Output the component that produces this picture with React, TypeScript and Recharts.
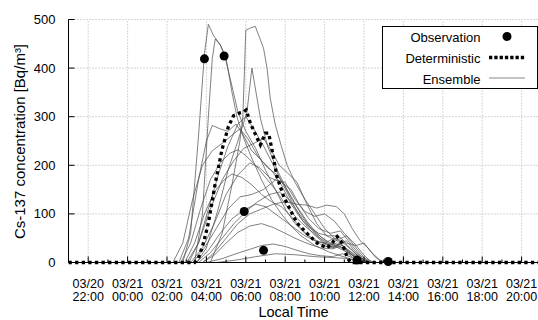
import { ComposedChart, Line, XAxis, YAxis, CartesianGrid, Legend, ReferenceLine } from 'recharts';

const FONT = '"Liberation Sans", Arial, Helvetica, sans-serif';

// x is hours after 03/20 21:00 local time
const minorTicks = [1, 2, 3, 4, 5, 6, 7, 8, 9, 10, 11, 12, 13, 14, 15, 16, 17, 18, 19, 20, 21, 22, 23];
const majorTicks = [1, 3, 5, 7, 9, 11, 13, 15, 17, 19, 21, 23];
const tickDays = ['03/20', '03/21', '03/21', '03/21', '03/21', '03/21', '03/21', '03/21', '03/21', '03/21', '03/21', '03/21'];
const tickTimes = ['22:00', '00:00', '02:00', '04:00', '06:00', '08:00', '10:00', '12:00', '14:00', '16:00', '18:00', '20:00'];
const yTicks = [0, 100, 200, 300, 400, 500];

const observation = [[6.9, 419], [7.9, 425], [8.92, 105], [9.9, 25], [14.65, 5], [16.23, 2]];

const deterministic = [
  [0, 0], [6.4, 0], [6.6, 9], [6.85, 40], [7.1, 81], [7.45, 163], [7.79, 232], [8.12, 280], [8.38, 302],
  [8.7, 308], [8.89, 310], [9.02, 314], [9.23, 287], [9.57, 256], [9.74, 242], [9.99, 266], [10.16, 266],
  [10.33, 232], [10.58, 177], [10.92, 136], [11.26, 108], [11.6, 81], [12.11, 60], [12.62, 40], [13.13, 30],
  [13.38, 40], [13.64, 53], [13.89, 40], [14.14, 12], [14.3, 0], [24, 0],
];

const m1 = [[0, 0], [5.8, 0], [6.2, 60], [6.6, 260], [6.9, 430], [7.1, 490], [7.35, 468], [7.7, 448], [8.0, 420], [8.3, 350], [8.55, 300], [8.9, 255], [9.3, 215], [9.8, 170], [10.3, 130], [10.8, 100], [11.3, 75], [11.8, 55], [12.5, 35], [13.2, 22], [13.8, 14], [14.5, 5], [15, 0], [24, 0]];
const m2 = [[0, 0], [6.4, 0], [6.8, 100], [7.1, 300], [7.3, 420], [7.45, 460], [7.7, 448], [7.9, 430], [8.2, 380], [8.6, 310], [9, 270], [9.5, 235], [10, 190], [10.5, 150], [11, 110], [11.5, 80], [12, 60], [12.6, 45], [13.2, 35], [13.6, 40], [14, 25], [14.5, 8], [15, 0], [24, 0]];
const m3 = [[0, 0], [7.2, 0], [7.8, 60], [8.3, 160], [8.7, 250], [8.85, 300], [9.0, 478], [9.2, 482], [9.48, 486], [9.9, 441], [10.08, 400], [10.24, 338], [10.5, 283], [10.8, 240], [11.1, 200], [11.5, 165], [12, 130], [12.5, 100], [13, 70], [13.5, 50], [13.9, 42], [14.3, 28], [14.8, 10], [15.3, 0], [24, 0]];
const m4 = [[0, 0], [6.5, 0], [7, 30], [7.6, 110], [8.1, 190], [8.6, 250], [9.06, 310], [9.31, 400], [9.74, 297], [10.1, 240], [10.6, 190], [11.2, 140], [11.8, 100], [12.4, 65], [13, 40], [13.5, 30], [13.9, 45], [14.3, 30], [14.8, 10], [15.3, 0], [24, 0]];
const m5 = [[0, 0], [5.6, 0], [6.1, 50], [6.6, 170], [7.0, 250], [7.3, 282], [7.7, 275], [8.1, 270], [8.5, 285], [8.9, 260], [9.3, 230], [9.8, 210], [10.3, 190], [10.8, 160], [11.3, 120], [11.8, 90], [12.3, 70], [12.9, 50], [13.5, 35], [14, 28], [14.6, 10], [15.2, 0], [24, 0]];
const m6 = [[0, 0], [5.3, 0], [5.8, 40], [6.3, 130], [6.8, 200], [7.3, 230], [7.8, 245], [8.3, 262], [8.7, 275], [9.1, 255], [9.6, 220], [10.1, 195], [10.6, 180], [11.1, 150], [11.6, 115], [12.1, 85], [12.6, 60], [13.2, 40], [13.7, 35], [14.1, 45], [14.5, 25], [15, 5], [15.4, 0], [24, 0]];
const m7 = [[0, 0], [6, 0], [6.6, 40], [7.2, 110], [7.8, 170], [8.4, 210], [8.9, 235], [9.4, 245], [9.9, 255], [10.3, 230], [10.7, 200], [11.1, 185], [11.6, 165], [12.1, 120], [12.6, 80], [13.1, 55], [13.6, 45], [14.1, 55], [14.5, 35], [15, 10], [15.5, 0], [24, 0]];
const m8 = [[0, 0], [5.7, 0], [6.2, 40], [6.7, 110], [7.2, 170], [7.7, 205], [8.2, 225], [8.6, 232], [9.0, 220], [9.5, 200], [10, 175], [10.5, 150], [11, 120], [11.5, 95], [12, 75], [12.6, 55], [13.2, 38], [13.7, 30], [14.2, 20], [14.8, 5], [15.3, 0], [24, 0]];
const m9 = [[0, 0], [6.2, 0], [6.8, 30], [7.4, 80], [8, 140], [8.6, 180], [9.2, 205], [9.7, 195], [10.2, 175], [10.8, 165], [11.3, 150], [11.7, 120], [12.2, 90], [12.7, 70], [13.3, 60], [13.8, 65], [14.3, 40], [14.8, 15], [15.3, 0], [24, 0]];
const m10 = [[0, 0], [6.8, 0], [7.4, 20], [8, 50], [8.6, 80], [9.2, 100], [9.8, 110], [10.4, 120], [11, 125], [11.6, 120], [12.1, 118], [12.6, 112], [13.1, 118], [13.6, 115], [14, 100], [14.4, 70], [14.8, 45], [15.2, 30], [15.6, 10], [16, 0], [24, 0]];
const m11 = [[0, 0], [6.3, 0], [6.9, 30], [7.5, 70], [8.1, 110], [8.7, 135], [9.3, 140], [9.9, 150], [10.5, 170], [11, 165], [11.5, 130], [12, 105], [12.5, 95], [13, 100], [13.5, 85], [14, 60], [14.5, 40], [15, 15], [15.4, 0], [24, 0]];
const m12 = [[0, 0], [6.5, 0], [7.1, 25], [7.7, 60], [8.3, 90], [8.9, 108], [9.5, 120], [10, 115], [10.5, 100], [11, 85], [11.5, 70], [12, 55], [12.5, 45], [13, 40], [13.5, 50], [13.9, 35], [14.4, 15], [14.9, 0], [24, 0]];
const m13 = [[0, 0], [6.8, 0], [7.4, 15], [8, 40], [8.6, 62], [9.2, 75], [9.8, 80], [10.4, 72], [11, 60], [11.6, 48], [12.2, 38], [12.8, 30], [13.4, 28], [13.9, 35], [14.4, 20], [15, 5], [15.4, 0], [24, 0]];
const m14 = [[0, 0], [7, 0], [7.8, 8], [8.5, 18], [9.2, 27], [9.8, 35], [10.4, 38], [11, 33], [11.6, 25], [12.2, 18], [12.8, 14], [13.4, 12], [13.9, 18], [14.4, 10], [15, 0], [24, 0]];
const m15 = [[0, 0], [7.5, 0], [8.5, 5], [9.5, 12], [10.5, 18], [11.5, 16], [12.5, 12], [13.5, 10], [14.2, 8], [15, 0], [24, 0]];
const m16 = [[0, 0], [5.9, 0], [6.4, 40], [6.9, 100], [7.4, 145], [7.9, 170], [8.3, 182], [8.8, 175], [9.3, 160], [9.8, 140], [10.3, 125], [10.8, 115], [11.3, 95], [11.8, 70], [12.3, 50], [12.9, 35], [13.4, 30], [13.8, 38], [14.2, 22], [14.7, 5], [15.1, 0], [24, 0]];
const m17 = [[0, 0], [6.1, 0], [6.6, 40], [7.1, 110], [7.6, 180], [8.1, 240], [8.6, 285], [9.0, 300], [9.4, 275], [9.9, 240], [10.4, 200], [10.9, 160], [11.4, 120], [11.9, 85], [12.4, 60], [12.9, 42], [13.4, 32], [13.8, 40], [14.2, 25], [14.7, 8], [15.1, 0], [24, 0]];
const m18 = [[0, 0], [6.6, 0], [7.2, 20], [7.8, 50], [8.4, 80], [9, 105], [9.6, 125], [10.2, 140], [10.7, 145], [11.2, 130], [11.7, 100], [12.2, 75], [12.7, 60], [13.2, 55], [13.7, 55], [14.1, 40], [14.6, 35], [15, 40], [15.4, 20], [15.8, 5], [16.2, 0], [24, 0]];

const ensemble = [m1, m2, m3, m4, m5, m6, m7, m8, m9, m10, m11, m12, m13, m14, m15, m16, m17, m18];

const toRows = (pts: number[][]) => pts.map(([h, v]) => ({ h, v }));

const BottomTick = ({ x, y, payload }: any) => {
  const i = majorTicks.indexOf(payload.value);
  return (
    <g>
      <line x1={x} x2={x} y1={y} y2={y - (i >= 0 ? 6 : 3)} stroke="#000" />
      {i >= 0 && (
        <text x={x} y={y} textAnchor="middle" fontSize={12.5} fontFamily={FONT} fill="#000">
          <tspan x={x} dy={25}>{tickDays[i]}</tspan>
          <tspan x={x} dy={13.5}>{tickTimes[i]}</tspan>
        </text>
      )}
    </g>
  );
};

const TopTick = ({ x, y, payload }: any) => {
  const major = majorTicks.includes(payload.value);
  return <line x1={x} x2={x} y1={y} y2={y + (major ? 6 : 3)} stroke="#000" />;
};

const LeftTick = ({ x, y, payload }: any) => (
  <g>
    <line x1={x} x2={x + 6} y1={y} y2={y} stroke="#000" />
    <text x={x - 13} y={y} dy={4.5} textAnchor="end" fontSize={13} fontFamily={FONT} fill="#000">
      {payload.value}
    </text>
  </g>
);

const renderLegend = () => (
  <svg width={157} height={64} style={{ display: 'block' }}>
    <rect x={0.5} y={0.5} width={155} height={62} fill="#fff" stroke="#000" />
    <text x={98.5} y={16} textAnchor="end" fontSize={13} fontFamily={FONT}>Observation</text>
    <circle cx={125} cy={10.5} r={4.5} fill="#000" />
    <text x={98.5} y={37} textAnchor="end" fontSize={13} fontFamily={FONT}>Deterministic</text>
    <line x1={107} x2={143} y1={31.5} y2={31.5} stroke="#000" strokeWidth={3.3} strokeDasharray="3.3 2" />
    <text x={98.5} y={58} textAnchor="end" fontSize={13} fontFamily={FONT}>Ensemble</text>
    <line x1={107} x2={143} y1={52} y2={52} stroke="#888" strokeWidth={1} />
  </svg>
);

export default function App() {
  return (
    <div style={{ position: 'fixed', left: 0, top: 0, width: 538, height: 320, overflow: 'hidden', background: '#fff' }}>
      <ComposedChart width={546} height={320} margin={{ top: 19.5, right: 4.7, bottom: 0, left: 0.5 }}>
        <CartesianGrid vertical={false} stroke="#999" strokeDasharray="1 2" strokeWidth={0.8} />
        {majorTicks.map((t) => (
          <ReferenceLine key={`vg-${t}`} x={t} stroke="#999" strokeDasharray="1 2" strokeWidth={0.8} />
        ))}
        <XAxis
          type="number"
          dataKey="h"
          domain={[0, 24]}
          ticks={minorTicks}
          interval={0}
          height={57.5}
          tickSize={0}
          tickMargin={0}
          tick={<BottomTick />}
          axisLine={{ stroke: '#000' }}
          allowDataOverflow
          label={{
            content: () => (
              <text x={293.5} y={316.8} textAnchor="middle" fontSize={14.5} fontFamily={FONT} fill="#000">Local Time</text>
            ),
          }}
        />
        <XAxis
          xAxisId="top"
          orientation="top"
          type="number"
          dataKey="h"
          domain={[0, 24]}
          ticks={minorTicks}
          interval={0}
          height={0}
          tickSize={0}
          tickMargin={0}
          tick={<TopTick />}
          axisLine={{ stroke: '#000' }}
        />
        <YAxis
          type="number"
          domain={[0, 500]}
          ticks={yTicks}
          interval={0}
          width={68}
          tickSize={0}
          tickMargin={0}
          tick={<LeftTick />}
          axisLine={{ stroke: '#000' }}
          label={{
            content: () => (
              <text x={19} y={141.5} transform="rotate(-90 19 141.5)" textAnchor="middle" dominantBaseline="central" fontSize={15} fontFamily={FONT} fill="#000">
                Cs-137 concentration [Bq/m³]
              </text>
            ),
          }}
        />
        {ensemble.map((m, i) => (
          <Line
            key={`ens-${i}`}
            data={toRows(m)}
            dataKey="v"
            type="linear"
            stroke="#4a4a4a"
            strokeWidth={0.7}
            dot={false}
            activeDot={false}
            isAnimationActive={false}
          />
        ))}
        <Line
          data={toRows(deterministic)}
          dataKey="v"
          type="linear"
          stroke="#000"
          strokeWidth={3.3}
          strokeDasharray="3.3 3.3"
          dot={false}
          activeDot={false}
          isAnimationActive={false}
        />
        <Line
          data={toRows(observation)}
          dataKey="v"
          type="linear"
          stroke="none"
          dot={{ r: 4.5, fill: '#000', stroke: 'none' }}
          activeDot={false}
          isAnimationActive={false}
        />
        <Legend
          layout="vertical"
          align="center"
          verticalAlign="middle"
          wrapperStyle={{ position: 'absolute', left: 381.5, top: 25.5, width: 157, height: 64 }}
          content={renderLegend}
        />
      </ComposedChart>
    </div>
  );
}
